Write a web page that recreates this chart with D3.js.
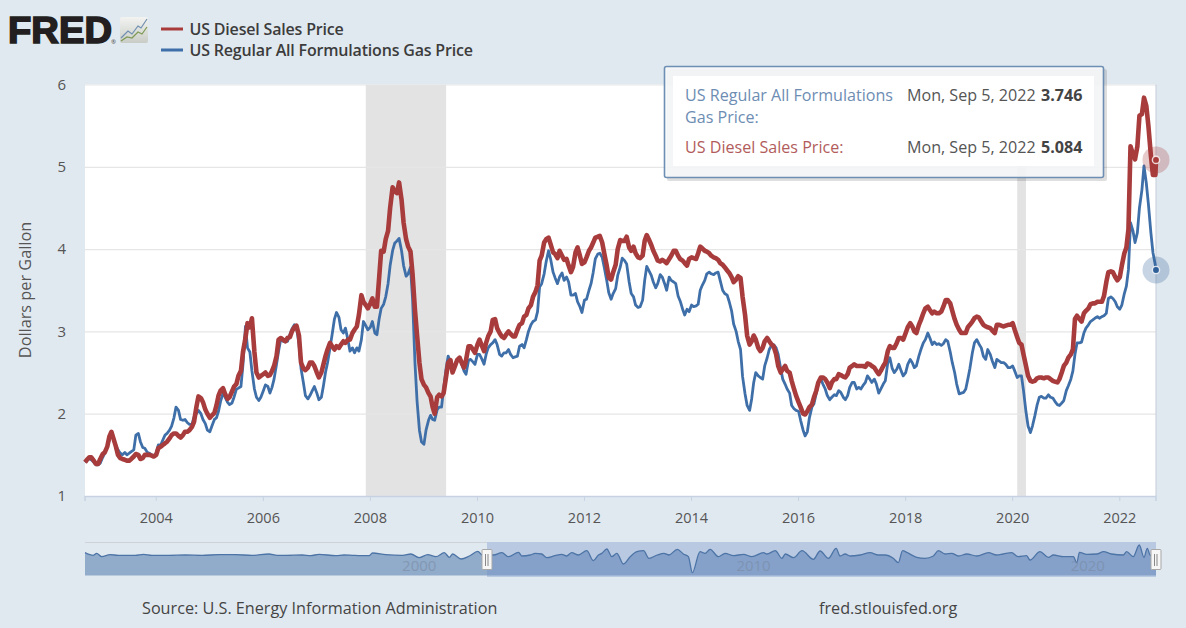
<!DOCTYPE html>
<html>
<head>
<meta charset="utf-8">
<style>
html,body{margin:0;padding:0;background:#e1e9f0;overflow:hidden}
svg{display:block}
text{font-family:"Open Sans",sans-serif}
</style>
<script src="https://cdnjs.cloudflare.com/ajax/libs/d3/7.8.5/d3.min.js"></script>
</head>
<body>
<svg id="chart" width="1186" height="628"></svg>
<script>
// Half-monthly readings (1st and 15th of each month) in dollars per gallon.
const gas2002=[1.41,1.43,1.46,1.44,1.41,1.38,1.38,1.40];
const gas2003=[1.47,1.52,1.60,1.68,1.76,1.70,1.61,1.56,1.52,1.50,1.53,1.50,1.52,1.54,1.56,1.74,1.76,1.66,1.59,1.58,1.53,1.52,1.50,1.48];
const gas2004=[1.52,1.62,1.62,1.68,1.74,1.76,1.80,1.85,1.95,2.08,2.04,1.93,1.92,1.93,1.89,1.87,1.87,1.96,2.00,2.04,2.00,1.93,1.88,1.80];
const gas2005=[1.78,1.85,1.93,1.95,2.03,2.15,2.25,2.20,2.14,2.11,2.13,2.20,2.30,2.31,2.33,2.60,3.06,2.80,2.75,2.52,2.30,2.20,2.16,2.20];
const gas2006=[2.28,2.35,2.33,2.25,2.32,2.42,2.60,2.76,2.92,2.88,2.88,2.88,2.96,3.03,3.08,3.05,2.85,2.55,2.38,2.22,2.18,2.22,2.28,2.33];
const gas2007=[2.25,2.17,2.20,2.34,2.50,2.62,2.80,2.96,3.15,3.23,3.17,3.02,2.98,3.04,2.90,2.76,2.80,2.74,2.80,2.76,2.90,3.12,3.07,3.02];
const gas2008=[3.05,3.12,2.98,2.96,3.15,3.28,3.33,3.42,3.58,3.80,3.98,4.07,4.10,4.13,3.98,3.80,3.67,3.70,3.78,3.40,2.60,2.15,1.80,1.66];
const gas2009=[1.63,1.80,1.92,1.98,1.93,1.92,2.05,2.08,2.08,2.30,2.55,2.70,2.62,2.50,2.60,2.66,2.68,2.60,2.52,2.48,2.65,2.66,2.63,2.60];
const gas2010=[2.72,2.72,2.66,2.60,2.72,2.80,2.84,2.86,2.90,2.84,2.72,2.70,2.74,2.74,2.78,2.72,2.68,2.69,2.70,2.82,2.84,2.80,2.90,3.00];
const gas2011=[3.08,3.12,3.14,3.24,3.54,3.58,3.70,3.85,3.98,3.88,3.72,3.65,3.58,3.66,3.71,3.62,3.66,3.60,3.44,3.44,3.46,3.36,3.30,3.23];
const gas2012=[3.38,3.39,3.50,3.58,3.72,3.88,3.94,3.95,3.90,3.78,3.62,3.47,3.39,3.46,3.52,3.68,3.78,3.89,3.86,3.82,3.60,3.46,3.42,3.32];
const gas2013=[3.29,3.30,3.38,3.62,3.79,3.74,3.68,3.60,3.53,3.58,3.69,3.66,3.58,3.50,3.66,3.62,3.60,3.58,3.43,3.37,3.27,3.20,3.27,3.24];
const gas2014=[3.32,3.30,3.31,3.33,3.50,3.56,3.62,3.70,3.72,3.70,3.69,3.71,3.72,3.62,3.50,3.46,3.44,3.36,3.25,3.09,3.00,2.88,2.78,2.45];
const gas2015=[2.24,2.10,2.04,2.18,2.38,2.50,2.46,2.44,2.42,2.58,2.68,2.78,2.83,2.84,2.80,2.72,2.55,2.42,2.36,2.30,2.25,2.10,2.06,2.04];
const gas2016=[2.03,1.92,1.80,1.73,1.78,1.95,2.08,2.12,2.25,2.38,2.42,2.36,2.30,2.22,2.17,2.20,2.23,2.22,2.28,2.26,2.20,2.17,2.22,2.32];
const gas2017=[2.38,2.38,2.30,2.32,2.30,2.34,2.38,2.46,2.42,2.38,2.42,2.36,2.25,2.30,2.36,2.40,2.62,2.68,2.55,2.50,2.54,2.60,2.52,2.46];
const gas2018=[2.50,2.60,2.66,2.62,2.56,2.58,2.70,2.78,2.86,2.90,2.98,2.92,2.84,2.87,2.84,2.85,2.83,2.85,2.90,2.88,2.75,2.62,2.50,2.36];
const gas2019=[2.24,2.25,2.26,2.30,2.42,2.55,2.74,2.86,2.90,2.85,2.80,2.70,2.66,2.78,2.72,2.64,2.56,2.66,2.64,2.62,2.62,2.60,2.56,2.56];
const gas2020=[2.58,2.52,2.44,2.46,2.46,2.28,2.02,1.85,1.77,1.85,1.98,2.10,2.20,2.21,2.19,2.19,2.23,2.20,2.19,2.15,2.11,2.10,2.13,2.16];
const gas2021=[2.28,2.34,2.42,2.52,2.72,2.86,2.86,2.87,2.98,3.04,3.08,3.12,3.14,3.16,3.18,3.16,3.18,3.19,3.22,3.40,3.42,3.40,3.36,3.30];
const gas2022=[3.27,3.32,3.46,3.55,3.75,4.32,4.22,4.08,4.20,4.50,4.72,5.01,4.80,4.55,4.20,3.96,3.80,3.746];

const diesel2002=[1.41,1.44,1.47,1.47,1.43,1.39,1.39,1.45];
const diesel2003=[1.51,1.53,1.60,1.72,1.78,1.70,1.60,1.50,1.46,1.45,1.44,1.43,1.43,1.45,1.48,1.51,1.50,1.45,1.46,1.50,1.50,1.50,1.49,1.48];
const diesel2004=[1.50,1.58,1.60,1.62,1.64,1.66,1.70,1.74,1.76,1.76,1.73,1.71,1.74,1.78,1.78,1.80,1.84,1.90,2.08,2.21,2.19,2.14,2.05,2.00];
const diesel2005=[1.95,1.98,2.01,2.10,2.22,2.28,2.31,2.24,2.18,2.20,2.27,2.33,2.36,2.46,2.52,2.75,2.92,3.10,3.05,3.16,2.75,2.50,2.44,2.46];
const diesel2006=[2.48,2.50,2.46,2.47,2.52,2.58,2.70,2.90,2.92,2.90,2.88,2.92,2.93,3.00,3.05,3.07,2.95,2.62,2.55,2.53,2.56,2.62,2.62,2.58];
const diesel2007=[2.50,2.44,2.50,2.60,2.70,2.78,2.86,2.82,2.78,2.82,2.80,2.84,2.88,2.86,2.90,2.90,2.98,3.02,3.06,3.20,3.44,3.36,3.32,3.28];
const diesel2008=[3.34,3.40,3.30,3.30,3.65,3.98,3.97,4.12,4.22,4.50,4.75,4.70,4.68,4.81,4.60,4.32,4.12,4.03,3.97,3.70,3.25,2.95,2.62,2.42];
const diesel2009=[2.35,2.32,2.25,2.21,2.08,2.00,2.20,2.23,2.21,2.25,2.45,2.62,2.65,2.50,2.58,2.65,2.68,2.62,2.56,2.65,2.82,2.82,2.78,2.74];
const diesel2010=[2.84,2.90,2.82,2.76,2.86,2.94,3.00,3.14,3.15,3.04,2.98,2.94,2.92,2.96,3.00,2.97,2.94,2.94,3.02,3.08,3.10,3.18,3.20,3.28];
const diesel2011=[3.32,3.42,3.48,3.56,3.86,3.92,4.08,4.12,4.14,4.06,3.96,3.94,3.89,3.98,3.92,3.87,3.88,3.80,3.72,3.78,3.96,4.02,3.92,3.82];
const diesel2012=[3.84,3.90,3.98,4.02,4.08,4.14,4.15,4.16,4.08,3.95,3.80,3.65,3.63,3.72,3.81,4.00,4.11,4.10,4.10,4.15,4.02,3.98,4.03,3.95];
const diesel2013=[3.90,3.89,3.92,4.10,4.17,4.12,4.05,3.98,3.92,3.86,3.85,3.87,3.85,3.83,3.88,3.92,3.98,3.98,3.92,3.88,3.86,3.83,3.80,3.88];
const diesel2014=[3.90,3.89,3.88,3.95,4.03,4.01,3.98,3.97,3.95,3.92,3.90,3.89,3.87,3.83,3.81,3.78,3.74,3.71,3.66,3.60,3.63,3.67,3.65,3.42];
const diesel2015=[3.20,2.95,2.84,2.88,2.95,2.90,2.80,2.76,2.80,2.88,2.92,2.88,2.84,2.82,2.72,2.58,2.50,2.54,2.58,2.52,2.50,2.40,2.30,2.22];
const diesel2016=[2.14,2.08,2.00,1.99,2.03,2.08,2.11,2.20,2.28,2.38,2.44,2.44,2.42,2.38,2.31,2.38,2.42,2.42,2.48,2.47,2.45,2.44,2.48,2.56];
const diesel2017=[2.58,2.60,2.58,2.58,2.58,2.58,2.57,2.61,2.60,2.58,2.56,2.52,2.48,2.52,2.58,2.62,2.76,2.82,2.80,2.80,2.86,2.92,2.92,2.90];
const diesel2018=[2.98,3.05,3.10,3.06,3.00,2.98,3.08,3.14,3.22,3.28,3.30,3.26,3.22,3.24,3.22,3.22,3.24,3.30,3.38,3.38,3.34,3.25,3.15,3.08];
const diesel2019=[3.02,2.98,2.98,2.98,3.05,3.08,3.12,3.16,3.18,3.17,3.12,3.08,3.06,3.05,3.04,3.01,2.98,3.08,3.08,3.07,3.06,3.07,3.08,3.08];
const diesel2020=[3.10,3.02,2.93,2.86,2.84,2.72,2.58,2.46,2.40,2.39,2.40,2.43,2.44,2.44,2.43,2.44,2.44,2.42,2.40,2.39,2.38,2.42,2.50,2.58];
const diesel2021=[2.62,2.68,2.72,2.78,3.15,3.19,3.15,3.12,3.22,3.25,3.28,3.33,3.34,3.34,3.36,3.36,3.36,3.43,3.60,3.72,3.73,3.72,3.66,3.62];
const diesel2022=[3.66,3.80,3.95,4.02,4.24,5.25,5.15,5.09,5.25,5.62,5.64,5.84,5.74,5.50,5.14,4.90,4.90,5.084];

const gasByYear=[gas2002,gas2003,gas2004,gas2005,gas2006,gas2007,gas2008,gas2009,gas2010,gas2011,gas2012,gas2013,gas2014,gas2015,gas2016,gas2017,gas2018,gas2019,gas2020,gas2021,gas2022];
const dieselByYear=[diesel2002,diesel2003,diesel2004,diesel2005,diesel2006,diesel2007,diesel2008,diesel2009,diesel2010,diesel2011,diesel2012,diesel2013,diesel2014,diesel2015,diesel2016,diesel2017,diesel2018,diesel2019,diesel2020,diesel2021,diesel2022];

// Recession spans shaded behind the lines.
const recessionStarts=["2007-12-01","2020-02-01"];
const recessionEnds=["2009-06-01","2020-04-01"];

// Long-history overview strip: decimal year and relative level (larger is lower on the strip).
const navYears=[1990,1990.25,1990.35,1990.5,1990.75,1991,1991.5,1991.75,1992,1992.5,1993,1993.5,1994,1994.5,1995,1995.5,1995.75,1996,1996.5,1996.75,1997,1997.5,1997.75,1998,1998.25,1998.5,1998.6,1999,1999.5,1999.75,2000,2000.25,2000.5,2000.75,2000.9,2001,2001.25,2001.5,2001.75,2001.9,2002.05,2002.22,2002.47,2002.67,2002.97,2003.07,2003.32,2003.47,2003.66,2003.81,2004.06,2004.26,2004.41,2004.56,2004.76,2005.01,2005.21,2005.36,2005.46,2005.61,2005.76,2005.91,2006.11,2006.31,2006.51,2006.71,2006.87,2007.12,2007.32,2007.47,2007.72,2007.90,2008.05,2008.17,2008.40,2008.55,2008.70,2008.95,2009.15,2009.40,2009.70,2009.95,2010.30,2010.40,2010.65,2010.85,2010.95,2011.20,2011.45,2011.79,2011.99,2012.24,2012.47,2012.59,2012.74,2012.89,2013.19,2013.49,2013.73,2013.93,2014.18,2014.33,2014.46,2014.60,2014.88,2015.13,2015.38,2015.53,2015.73,2015.93,2016.13,2016.38,2016.68,2017.03,2017.27,2017.47,2017.72,2017.92,2018.17,2018.27,2018.57,2018.82,2018.97,2019.27,2019.57,2019.67,2019.75,2019.97,2020.27,2020.47,2020.71,2021.06,2021.16,2021.36,2021.54,2021.68,2021.78,2021.86,2022.01];
const navLevels=[38,46,40,50,44,46,46,43,46,46,45,46,44,44,46,42,46,46,45,47,43,47,45,46,47,47,39,44,46,42,53,44,50,38,52,42,57,48,34,46,44,45,38,50,37,48,45,40,42,53,47,43,48,38,45,32,62,45,40,27,50,40,72,50,35,32,55,45,40,45,28,42,50,98,35,40,28,50,40,47,43,50,38,42,32,55,42,53,32,58,33,55,25,48,42,48,45,38,45,45,55,68,32,38,52,55,48,32,42,40,48,42,48,38,45,42,38,50,47,60,35,52,45,50,50,68,37,43,42,35,42,45,35,50,15,52,25,45,50];
const navTickYears=[2000,2010,2020];

const yTickValues=[1,2,3,4,5,6];
const legendLabels=["US Diesel Sales Price","US Regular All Formulations Gas Price"];
const colorDiesel="#a83c3c", colorGas="#3f6fa8";

// Turn the yearly half-month lists into dated points; the last one is the closing week.
const lastDate=new Date(2022,8,5);
function toSeries(byYear){
  const out=[];
  byYear.forEach((vals,yi)=>{
    const year=2002+yi;
    const firstMonth=yi===0?8:0;
    vals.forEach((v,i)=>{
      const month=firstMonth+Math.floor(i/2);
      const d=new Date(year,month,i%2?15:1);
      out.push({date:d>lastDate?lastDate:d,value:v});
    });
  });
  out[0].date=new Date(2002,8,2);
  return out;
}
const gas=toSeries(gasByYear), diesel=toSeries(dieselByYear);

const svg=d3.select("#chart");
const plot={l:85,r:1156,t:84.5,b:496};
const x=d3.scaleTime().domain([new Date(2002,8,2),lastDate]).range([plot.l,plot.r]);
const y=d3.scaleLinear().domain([1,6]).range([plot.b,plot.t]);

svg.append("rect").attr("x",plot.l).attr("y",plot.t).attr("width",plot.r-plot.l).attr("height",plot.b-plot.t).attr("fill","#fff");

// Recession bands
svg.append("g").selectAll("rect").data(recessionStarts).join("rect")
  .attr("x",d=>x(new Date(d))).attr("y",plot.t)
  .attr("width",(d,i)=>x(new Date(recessionEnds[i]))-x(new Date(d)))
  .attr("height",plot.b-plot.t).attr("fill","#e3e3e3");

// Y axis with gridlines across the plot
const yAxis=svg.append("g").attr("transform",`translate(${plot.l},0)`)
  .call(d3.axisLeft(y).tickValues(yTickValues).tickSize(-(plot.r-plot.l)).tickPadding(19).tickFormat(d3.format("d")));
yAxis.select(".domain").remove();
yAxis.selectAll(".tick line").attr("stroke","#e6e6e6").attr("stroke-width",1.2).filter(d=>d===1).remove();
yAxis.selectAll("text").attr("fill","#555").style("font-size","15px").style("font-family",'"Open Sans",sans-serif');

// X axis, a label every second year
const xAxis=svg.append("g").attr("transform",`translate(-0.5,${plot.b})`)
  .call(d3.axisBottom(x).ticks(d3.timeYear.every(2)).tickSize(5).tickPadding(12).tickFormat(d3.timeFormat("%Y")));
xAxis.select(".domain").attr("stroke","#c6d2e2").attr("stroke-width",1.5);
xAxis.selectAll(".tick line").attr("stroke","#c6d2e2");
xAxis.selectAll("text").attr("fill","#555").style("font-size","14.5px").style("font-family",'"Open Sans",sans-serif');

svg.append("line").attr("x1",plot.r).attr("x2",plot.r).attr("y1",plot.t).attr("y2",plot.b).attr("stroke","#c5cdd8").attr("stroke-width",1);

svg.append("text").attr("transform","translate(31,290) rotate(-90)").attr("text-anchor","middle")
  .attr("fill","#555").style("font-size","16.3px").text("Dollars per Gallon");

// Price lines
const line=d3.line().x(d=>x(d.date)).y(d=>y(d.value)).curve(d3.curveLinear);
svg.append("path").datum(gas).attr("d",line).attr("fill","none").attr("stroke",colorGas).attr("stroke-width",2.8).attr("stroke-linejoin","round");
svg.append("path").datum(diesel).attr("d",line).attr("fill","none").attr("stroke",colorDiesel).attr("stroke-width",4.6).attr("stroke-linejoin","round");

// Hovered end points with halos
const endGas=gas[gas.length-1], endDiesel=diesel[diesel.length-1];
[[endDiesel,colorDiesel],[endGas,"#2f5f98"]].forEach(([p,c])=>{
  svg.append("circle").attr("cx",x(p.date)).attr("cy",y(p.value)).attr("r",13.5).attr("fill",c).attr("opacity",.27);
  svg.append("circle").attr("cx",x(p.date)).attr("cy",y(p.value)).attr("r",3.6).attr("fill",c).attr("stroke","#fff").attr("stroke-opacity",.8).attr("stroke-width",1.4);
});

// Overview strip
const navTop=543.5, navBottom=575.5, handleLeft=487;
const nx=d3.scaleLinear().domain([1990,2022.04]).range([plot.l,plot.r]);
const ny=d3.scaleLinear().domain([0,120]).range([540,580]);
const navData=navYears.map((yr,i)=>({yr,v:navLevels[i]}));
navData.push({yr:2022.04,v:50});
const defs=svg.append("defs");
defs.append("clipPath").attr("id","navOut").append("rect").attr("x",plot.l).attr("y",530).attr("width",handleLeft-plot.l).attr("height",60);
defs.append("clipPath").attr("id","navIn").append("rect").attr("x",handleLeft).attr("y",530).attr("width",plot.r-handleLeft).attr("height",60);
svg.append("line").attr("x1",plot.l).attr("x2",handleLeft).attr("y1",navTop-1).attr("y2",navTop-1).attr("stroke","#cfd2d6").attr("stroke-width",1);
svg.append("rect").attr("x",handleLeft).attr("y",navTop-1.5).attr("width",plot.r-handleLeft).attr("height",navBottom-navTop+3).attr("fill","#b9c9e1");
const navArea=d3.area().x(d=>nx(d.yr)).y0(navBottom).y1(d=>ny(d.v)).curve(d3.curveMonotoneX);
const navLine=d3.line().x(d=>nx(d.yr)).y(d=>ny(d.v)).curve(d3.curveMonotoneX);
svg.append("path").datum(navData).attr("d",navArea).attr("fill","#91accb").attr("clip-path","url(#navOut)");
svg.append("path").datum(navData).attr("d",navArea).attr("fill","#85a1ca").attr("clip-path","url(#navIn)");
svg.append("path").datum(navData).attr("d",navLine).attr("fill","none").attr("stroke","#4d74a6").attr("stroke-width",1.3);
svg.append("g").selectAll("text").data(navTickYears).join("text")
  .attr("x",d=>nx(d)).attr("y",571).attr("text-anchor","middle")
  .attr("fill","#7a8aa3").attr("opacity",.6).style("font-size","15px").text(d=>d);
// Range handles
[handleLeft,plot.r].forEach(hx=>{
  const h=svg.append("g").attr("transform",`translate(${hx-0.5},0)`);
  h.append("rect").attr("x",-4.5).attr("y",549.5).attr("width",10).attr("height",20).attr("rx",1).attr("fill","#f6f6f6").attr("stroke","#a8a8a8");
  [-1,1.5].forEach(o=>h.append("line").attr("x1",o).attr("x2",o).attr("y1",554).attr("y2",566).attr("stroke","#888"));
});

// Footer
svg.append("text").attr("x",142).attr("y",614).attr("fill","#444").style("font-size","16.2px").text("Source: U.S. Energy Information Administration");
svg.append("text").attr("x",819).attr("y",614).attr("fill","#444").style("font-size","16.2px").text("fred.stlouisfed.org");

// Legend
[colorDiesel,colorGas].forEach((c,i)=>{
  const ly=29+i*21;
  svg.append("line").attr("x1",161).attr("x2",183).attr("y1",ly).attr("y2",ly).attr("stroke",c).attr("stroke-width",3);
  svg.append("text").attr("x",189.5).attr("y",ly+6).attr("fill","#3c3c3c").style("font-size","16px").style("font-weight",600).attr("letter-spacing","-0.18").text(legendLabels[i]);
});

// Wordmark and its little chart badge
svg.append("text").attr("x",8).attr("y",43).attr("textLength",104).attr("lengthAdjust","spacingAndGlyphs")
  .attr("fill","#231f20").attr("stroke","#231f20").attr("stroke-width",1.6)
  .style("font-family",'"Liberation Sans",sans-serif').style("font-weight",700).style("font-size","37px").text("FRED");
svg.append("text").attr("x",111).attr("y",44).attr("fill","#444").style("font-size","6px").text("®");
const grad=defs.append("linearGradient").attr("id","badge").attr("x1",0).attr("y1",0).attr("x2",0).attr("y2",1);
grad.append("stop").attr("offset",0).attr("stop-color","#f3f4f2");
grad.append("stop").attr("offset",1).attr("stop-color","#c9cdc6");
svg.append("rect").attr("x",120).attr("y",17).attr("width",28).attr("height",26).attr("rx",2).attr("fill","url(#badge)");
svg.append("path").attr("d","M121,38 L128,31 L132,34 L138,26 L141,28 L147,19").attr("fill","none").attr("stroke","#6f8fb0").attr("stroke-width",1.2);
svg.append("path").attr("d","M121,41 L127,37 L132,38 L138,32 L142,34 L147,27").attr("fill","none").attr("stroke","#7d9a55").attr("stroke-width",1.2);

// Tooltip
const tip=svg.append("g");
tip.append("rect").attr("x",667).attr("y",69).attr("width",440).attr("height",112).attr("rx",2).attr("fill","#000").attr("opacity",.13);
tip.append("rect").attr("x",664.5).attr("y",66.5).attr("width",439).attr("height",111).attr("rx",2).attr("fill","#f7f8f9").attr("fill-opacity",.88).attr("stroke","#6d8fb3").attr("stroke-width",1.6);
tip.append("rect").attr("x",673).attr("y",76).attr("width",421).attr("height",90).attr("fill","#fff");
const tipRow=(txt,px,py,fill,weight)=>tip.append("text").attr("x",px).attr("y",py).attr("fill",fill).style("font-size","16.1px").style("font-weight",weight||400).text(txt);
const tipDate=d3.timeFormat("%a, %b %-d, %Y")(lastDate);
tipRow("US Regular All Formulations",685,101,"#6d8db3");
tipRow("Gas Price:",685,123,"#6d8db3");
tipRow("US Diesel Sales Price:",685,153,"#b25c5c");
tipRow(tipDate,907,101,"#555");
tipRow(tipDate,907,153,"#555");
tipRow(d3.format(".3f")(endGas.value),1041,101,"#444",700);
tipRow(d3.format(".3f")(endDiesel.value),1041,153,"#444",700);
</script>
</body>
</html>
